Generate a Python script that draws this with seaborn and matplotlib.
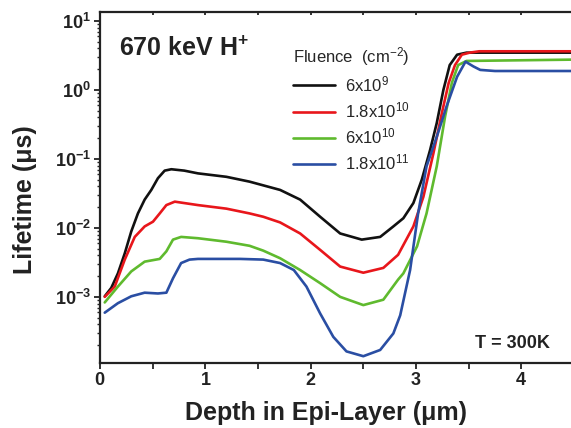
import numpy as np
import pandas as pd
import matplotlib
matplotlib.use("Agg")
import matplotlib.pyplot as plt
import matplotlib.ticker as mticker
import seaborn as sns

# ---- data ----
fluence_labels = ["6x10$^{9}$", "1.8x10$^{10}$", "6x10$^{10}$", "1.8x10$^{11}$"]
colors = ["#111111", "#e8161b", "#5fba2e", "#2a4ea3"]

x_black = [0.045, 0.107, 0.17, 0.235, 0.297, 0.36, 0.424, 0.487, 0.55, 0.614, 0.677, 0.80, 0.93,
           1.2, 1.42, 1.71, 1.90, 2.09, 2.28, 2.485, 2.66, 2.785, 2.88, 2.975, 3.055, 3.134,
           3.197, 3.26, 3.32, 3.39, 3.48, 4.5]
y_black = [1.02e-3, 1.35e-3, 2.19e-3, 4.27e-3, 8.9e-3, 1.62e-2, 2.57e-2, 3.55e-2, 5.25e-2,
           6.76e-2, 7.08e-2, 6.76e-2, 6.17e-2, 5.5e-2, 4.68e-2, 3.55e-2, 2.57e-2, 1.45e-2,
           8.3e-3, 6.76e-3, 7.4e-3, 1.05e-2, 1.38e-2, 2.29e-2, 5.0e-2, 0.135, 0.331, 1.0,
           2.29, 3.24, 3.47, 3.47]

x_red = [0.045, 0.14, 0.235, 0.33, 0.424, 0.503, 0.567, 0.63, 0.71, 0.93, 1.2, 1.42, 1.55, 1.71,
         1.90, 2.09, 2.28, 2.50, 2.69, 2.83, 2.975, 3.07, 3.165, 3.245, 3.31, 3.37, 3.435, 3.51,
         3.6, 4.5]
y_red = [1.0e-3, 1.41e-3, 3.47e-3, 7.4e-3, 1.05e-2, 1.23e-2, 1.62e-2, 2.14e-2, 2.4e-2, 2.14e-2,
         1.9e-2, 1.62e-2, 1.45e-2, 1.2e-2, 8.3e-3, 4.8e-3, 2.75e-3, 2.24e-3, 2.63e-3, 4.07e-3,
         1.05e-2, 2.82e-2, 0.12, 0.457, 1.26, 2.29, 3.24, 3.47, 3.63, 3.63]

x_green = [0.045, 0.17, 0.297, 0.424, 0.567, 0.63, 0.693, 0.77, 0.93, 1.2, 1.42, 1.55, 1.71,
           1.90, 2.09, 2.28, 2.50, 2.69, 2.83, 2.88, 3.01, 3.10, 3.197, 3.276, 3.34, 3.40, 3.48,
           4.5]
y_green = [8.3e-4, 1.41e-3, 2.34e-3, 3.24e-3, 3.55e-3, 4.57e-3, 6.76e-3, 7.4e-3, 7.08e-3,
           6.3e-3, 5.5e-3, 4.68e-3, 3.63e-3, 2.45e-3, 1.58e-3, 1.0e-3, 7.6e-4, 9.1e-4, 1.78e-3,
           2.19e-3, 5.4e-3, 1.62e-2, 7.8e-2, 0.41, 1.26, 2.29, 2.63, 2.75]

x_blue = [0.045, 0.17, 0.297, 0.424, 0.55, 0.63, 0.693, 0.77, 0.85, 0.93, 1.33, 1.55, 1.71, 1.84,
          1.96, 2.09, 2.215, 2.34, 2.50, 2.66, 2.785, 2.85, 2.944, 3.02, 3.10, 3.197, 3.29,
          3.39, 3.47, 3.545, 3.61, 3.75, 4.5]
y_blue = [5.9e-4, 8.1e-4, 1.02e-3, 1.15e-3, 1.12e-3, 1.15e-3, 1.86e-3, 3.09e-3, 3.47e-3,
          3.55e-3, 3.55e-3, 3.47e-3, 3.09e-3, 2.45e-3, 1.41e-3, 5.75e-4, 2.63e-4, 1.62e-4,
          1.38e-4, 1.7e-4, 2.95e-4, 5.4e-4, 2.45e-3, 1.62e-2, 7.8e-2, 0.209, 0.575, 1.55, 2.57,
          2.19, 1.95, 1.88, 1.88]

xs = [x_black, x_red, x_green, x_blue]
ys = [y_black, y_red, y_green, y_blue]

frames = []
for lab, xx, yy in zip(fluence_labels, xs, ys):
    frames.append(pd.DataFrame({"depth": xx, "lifetime": yy, "fluence": lab}))
df = pd.concat(frames, ignore_index=True)

# ---- style ----
sns.set_theme(style="ticks")
plt.rcParams["font.family"] = ["Liberation Sans", "DejaVu Sans"]
plt.rcParams["mathtext.fontset"] = "custom"
plt.rcParams["mathtext.rm"] = "Liberation Sans"
plt.rcParams["mathtext.bf"] = "Liberation Sans:bold"
plt.rcParams["mathtext.it"] = "Liberation Sans:italic"

fig = plt.figure(figsize=(5.71, 4.28), dpi=100)
W, H = 571, 428
ax_l, ax_r, ax_t, ax_b = 100, 574, 11.5, 363
ax = fig.add_axes([ax_l / W, (H - ax_b) / H, (ax_r - ax_l) / W, (ax_b - ax_t) / H])

sns.lineplot(data=df, x="depth", y="lifetime", hue="fluence", hue_order=fluence_labels,
             palette=colors, estimator=None, sort=False, linewidth=1.9, ax=ax)
for ln in ax.get_lines():
    ln.set_solid_joinstyle("round")
    ln.set_solid_capstyle("round")

ax.set_yscale("log")
ax.set_xlim(0, 4.5)
ax.set_ylim(1.1e-4, 13.7)

ax.xaxis.set_major_locator(mticker.FixedLocator([0, 1, 2, 3, 4]))
ax.xaxis.set_minor_locator(mticker.FixedLocator([0.5, 1.5, 2.5, 3.5]))
ax.xaxis.set_major_formatter(mticker.FuncFormatter(lambda v, p: r"$\mathbf{%d}$" % v))
ax.yaxis.set_major_locator(mticker.LogLocator(base=10, numticks=10))
ax.yaxis.set_minor_locator(mticker.LogLocator(base=10, subs=np.arange(2, 10), numticks=10))
ax.yaxis.set_major_formatter(mticker.FuncFormatter(
    lambda v, p: r"$\mathbf{10^{%d}}$" % int(round(np.log10(v)))))
ax.yaxis.set_minor_formatter(mticker.NullFormatter())

ax.tick_params(axis="both", which="major", labelsize=13, length=4.5, width=1.3,
               direction="out", colors="#222222", pad=2)
ax.tick_params(axis="y", which="minor", length=2.5, width=1.0, direction="out")
ax.tick_params(axis="x", which="minor", length=4.5, width=1.3, direction="out")
ax.tick_params(axis="x", which="both", top=True, labeltop=False)
for t in ax.xaxis.get_major_ticks() + ax.xaxis.get_minor_ticks():
    t.tick2line.set_markersize(2)
    t.tick2line.set_marker(3)  # short inward tick on the top spine
for s in ["left", "bottom", "top"]:
    ax.spines[s].set_linewidth(1.6)
    ax.spines[s].set_color("#222222")
ax.spines["right"].set_visible(False)

ax.set_xlabel("Depth in Epi-Layer (\u03bcm)", fontsize=18, fontweight="bold", color="#222222")
ax.set_ylabel("Lifetime (\u03bcs)", fontsize=18, fontweight="bold", color="#222222")
ax.xaxis.set_label_coords((326 - ax_l) / (ax_r - ax_l), -(413 - ax_b) / (ax_b - ax_t))
ax.yaxis.set_label_coords((25 - ax_l) / (ax_r - ax_l), (ax_b - 200) / (ax_b - ax_t))
ax.xaxis.label.set_va("center")
ax.yaxis.label.set_va("center")

ax.text(119 / W, (H - 49) / H, r"670 keV H$^{\mathbf{+}}$", transform=fig.transFigure,
        fontsize=18, fontweight="bold", ha="left", va="center", color="#222222")
ax.text(550 / W, (H - 343) / H, "T = 300K", transform=fig.transFigure,
        fontsize=13, fontweight="bold", ha="right", va="center", color="#222222")

leg = ax.legend(title="Fluence  (cm$^{-2}$)", frameon=False, loc="upper left",
                bbox_to_anchor=(293 / W, (H - 45) / H), bbox_transform=fig.transFigure,
                fontsize=12, title_fontsize=12, handlelength=2.5, handletextpad=0.6,
                labelspacing=0.38, borderpad=0, borderaxespad=0)
leg._legend_box.align = "left"
for line in leg.get_lines():
    line.set_linewidth(1.9)

fig.savefig("out.png", dpi=100)
